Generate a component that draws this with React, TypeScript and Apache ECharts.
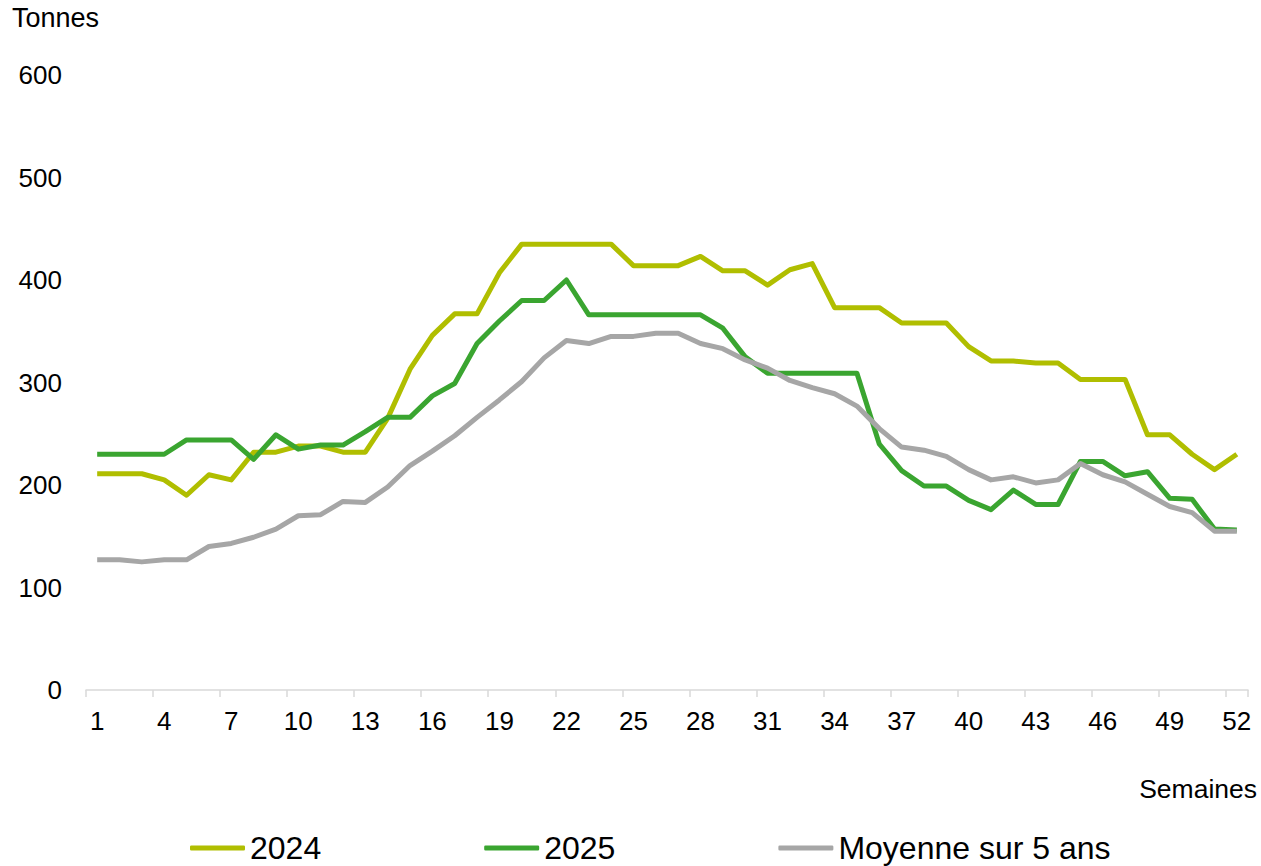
import React, { useEffect, useRef } from "react";
import * as echarts from "echarts";

const weeks: string[] = Array.from({ length: 52 }, (_, i) => String(i + 1));

const s2024: number[] = [211, 211, 211, 205, 190, 210, 205, 232, 232, 238, 238, 232, 232, 265, 313, 346, 367, 367, 407, 435, 435, 435, 435, 435, 414, 414, 414, 423, 409, 409, 395, 410, 416, 373, 373, 373, 358, 358, 358, 335, 321, 321, 319, 319, 303, 303, 303, 249, 249, 230, 215, 230];

const s2025: number[] = [230, 230, 230, 230, 244, 244, 244, 225, 249, 235, 239, 239, 252, 266, 266, 287, 299, 338, 360, 380, 380, 400, 366, 366, 366, 366, 366, 366, 353, 325, 309, 309, 309, 309, 309, 240, 214, 199, 199, 185, 176, 195, 181, 181, 223, 223, 209, 213, 187, 186, 157, 156];

const sAvg: number[] = [127, 127, 125, 127, 127, 140, 143, 149, 157, 170, 171, 184, 183, 198, 219, 233, 248, 266, 283, 301, 324, 341, 338, 345, 345, 348, 348, 338, 333, 322, 314, 302, 295, 289, 277, 255, 237, 234, 228, 215, 205, 208, 202, 205, 221, 210, 203, 191, 179, 173, 155, 155];

const seriesNames: string[] = ["2024", "2025", "Moyenne sur 5 ans"];
const colors: string[] = ["#B0BE00", "#3AA530", "#A6A6A6"];

const FONT = "Arial, 'Liberation Sans', sans-serif";

export default function App() {
  const ref = useRef<HTMLDivElement>(null);

  useEffect(() => {
    document.body.style.margin = "0";
    if (!ref.current) return;
    const chart = echarts.init(ref.current, undefined, { renderer: "svg" });
    const datas = [s2024, s2025, sAvg];
    chart.setOption({
      animation: false,
      textStyle: { fontFamily: FONT, color: "#000" },
      grid: { left: 86, right: 13, top: 75, bottom: 176, containLabel: false },
      legend: {
        left: 190,
        top: 832,
        itemGap: 163,
        itemWidth: 55,
        itemHeight: 5,
        padding: 0,
        icon: "roundRect",
        textStyle: { fontFamily: FONT, fontSize: 32, lineHeight: 32, color: "#000" },
        data: seriesNames,
      },
      xAxis: {
        type: "category",
        data: weeks,
        boundaryGap: true,
        axisLine: { show: true, lineStyle: { color: "#D9D9D9", width: 1.5 } },
        axisTick: { show: true, interval: 2, alignWithLabel: false, length: 7, lineStyle: { color: "#D9D9D9", width: 1.5 } },
        axisLabel: { interval: 2, margin: 18, fontSize: 26, color: "#000", fontFamily: FONT },
        splitLine: { show: false },
      },
      yAxis: {
        type: "value",
        min: 0,
        max: 600,
        interval: 100,
        axisLine: { show: false },
        axisTick: { show: false },
        splitLine: { show: false },
        axisLabel: { margin: 24, fontSize: 26, color: "#000", fontFamily: FONT },
      },
      graphic: [
        { type: "text", left: 12, top: 4, style: { text: "Tonnes", fontSize: 27, fill: "#000", fontFamily: FONT } },
        { type: "text", right: 4, top: 775, style: { text: "Semaines", fontSize: 26.5, fill: "#000", fontFamily: FONT } },
      ],
      series: seriesNames.map((name, i) => ({
        name,
        type: "line",
        data: datas[i],
        symbol: "none",
        showSymbol: false,
        lineStyle: { color: colors[i], width: 5, join: "round" },
        itemStyle: { color: colors[i] },
        z: 2 + i,
      })),
    });
    return () => chart.dispose();
  }, []);

  return <div ref={ref} style={{ width: 1261, height: 866 }} />;
}
